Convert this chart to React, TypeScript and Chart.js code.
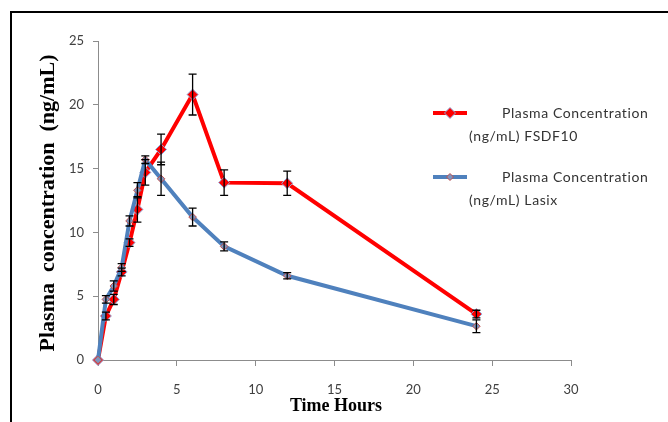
import React, { useEffect, useRef } from "react";
import { Chart, registerables } from "chart.js";

Chart.register(...registerables);

const times = [0, 0.5, 1, 1.5, 2, 2.5, 3, 4, 6, 8, 12, 24];
const fsdf10 = [0, 3.45, 4.75, 6.9, 9.2, 11.8, 14.7, 16.5, 20.8, 13.9, 13.85, 3.6];
const fsdf10Err = [0, 0.3, 0.4, 0.3, 0.3, 1.0, 1.0, 1.2, 1.6, 1.0, 0.95, 0.3];
const lasix = [0, 4.75, 5.8, 7.25, 10.9, 13.3, 15.7, 14.2, 11.2, 8.9, 6.6, 2.65];
const lasixErr = [0, 0.3, 0.4, 0.3, 0.4, 0.6, 0.3, 1.3, 0.7, 0.35, 0.25, 0.5];
const xTicks = [0, 5, 10, 15, 20, 25, 30];
const yTicks = [0, 5, 10, 15, 20, 25];

const seriesNames = ["Plasma Concentration (ng/mL) FSDF10", "Plasma Concentration (ng/mL) Lasix"];
const legendLines = [
  ["Plasma Concentration", "(ng/mL) FSDF10"],
  ["Plasma Concentration", "(ng/mL) Lasix"],
];
const xTitle = "Time Hours";
const yTitle = "Plasma  concentration  (ng/mL)";

const RED = "#FF0000";
const BLUE = "#4F81BD";

const errors = [fsdf10Err, lasixErr];

const errorBarPlugin = {
  id: "errorBars",
  afterDatasetsDraw(chart: any) {
    const ctx = chart.ctx;
    const xs = chart.scales.x;
    const ys = chart.scales.y;
    ctx.save();
    ctx.strokeStyle = "#000";
    ctx.lineWidth = 1.3;
    chart.data.datasets.forEach((ds: any, di: number) => {
      const err = errors[di];
      ds.data.forEach((p: any, i: number) => {
        const e = err[i];
        if (!e) return;
        const x = xs.getPixelForValue(p.x);
        const y1 = ys.getPixelForValue(p.y + e);
        const y2 = ys.getPixelForValue(p.y - e);
        ctx.beginPath();
        ctx.moveTo(x, y1);
        ctx.lineTo(x, y2);
        ctx.moveTo(x - 4, y1);
        ctx.lineTo(x + 4, y1);
        ctx.moveTo(x - 4, y2);
        ctx.lineTo(x + 4, y2);
        ctx.stroke();
      });
    });
    ctx.restore();
  },
};

function diamond(ctx: any, x: number, y: number, r: number, fill: string, stroke: string) {
  ctx.beginPath();
  ctx.moveTo(x, y - r);
  ctx.lineTo(x + r, y);
  ctx.lineTo(x, y + r);
  ctx.lineTo(x - r, y);
  ctx.closePath();
  ctx.fillStyle = fill;
  ctx.fill();
  ctx.strokeStyle = stroke;
  ctx.lineWidth = 1;
  ctx.stroke();
}

const decorPlugin = {
  id: "decor",
  afterDraw(chart: any) {
    const ctx = chart.ctx;
    ctx.save();
    // legend
    const items = [
      { y: 113, color: RED, mfill: RED, mstroke: "#8EA9DB", r: 5.5 },
      { y: 177, color: BLUE, mfill: "#7F94BE", mstroke: "#C0504D", r: 3.5 },
    ];
    items.forEach((it, i) => {
      ctx.strokeStyle = it.color;
      ctx.lineWidth = 4;
      ctx.beginPath();
      ctx.moveTo(433, it.y);
      ctx.lineTo(467, it.y);
      ctx.stroke();
      diamond(ctx, 450, it.y, it.r, it.mfill, it.mstroke);
      ctx.fillStyle = "#333";
      ctx.font = "14px Lato";
      try {
        ctx.letterSpacing = "0.6px";
      } catch (e) {}
      ctx.textBaseline = "middle";
      ctx.textAlign = "left";
      ctx.fillText(legendLines[i][0], 502, it.y);
      ctx.fillText(legendLines[i][1], 469, it.y + 23);
    });
    try {
      ctx.letterSpacing = "0px";
    } catch (e) {}
    // axis titles
    ctx.fillStyle = "#000";
    ctx.font = "bold 18px 'Liberation Serif'";
    ctx.textAlign = "center";
    ctx.textBaseline = "alphabetic";
    ctx.fillText(xTitle, 336, 411);
    ctx.translate(54, 203);
    ctx.rotate(-Math.PI / 2);
    ctx.font = "bold 22px 'Liberation Serif'";
    ctx.fillText(yTitle, 0, 0);
    ctx.restore();
  },
};

export default function App() {
  const ref = useRef<HTMLCanvasElement>(null);
  useEffect(() => {
    const canvas = ref.current!;
    const chart = new Chart(canvas, {
      type: "line",
      data: {
        datasets: [
          {
            label: seriesNames[0],
            data: times.map((t, i) => ({ x: t, y: fsdf10[i] })),
            borderColor: RED,
            backgroundColor: RED,
            borderWidth: 4,
            pointStyle: "rectRot",
            pointRadius: 5.5,
            pointBackgroundColor: RED,
            pointBorderColor: "#8EA9DB",
            pointBorderWidth: 1,
            tension: 0,
            clip: false,
            order: 1,
          },
          {
            label: seriesNames[1],
            data: times.map((t, i) => ({ x: t, y: lasix[i] })),
            borderColor: BLUE,
            backgroundColor: BLUE,
            borderWidth: 4,
            pointStyle: "rectRot",
            pointRadius: 3.8,
            pointBackgroundColor: "#7F94BE",
            pointBorderColor: "#C0504D",
            pointBorderWidth: 1,
            tension: 0,
            clip: false,
            order: 0,
          },
        ],
      },
      options: {
        animation: false,
        responsive: false,
        maintainAspectRatio: false,
        layout: { padding: { top: 41, right: 97, left: 0, bottom: 0 } },
        plugins: { legend: { display: false }, tooltip: { enabled: false } },
        scales: {
          x: {
            type: "linear",
            min: xTicks[0],
            max: xTicks[xTicks.length - 1],
            afterBuildTicks: (s: any) => {
              s.ticks = xTicks.map((v) => ({ value: v }));
            },
            afterFit: (s: any) => {
              s.height = 62;
            },
            ticks: { color: "#404040", font: { family: "Lato", size: 13 }, padding: 16, maxRotation: 0 },
            grid: { drawOnChartArea: false, tickLength: 6, color: "#8C8C8C" },
            border: { color: "#8C8C8C", width: 1 },
          },
          y: {
            type: "linear",
            min: yTicks[0],
            max: yTicks[yTicks.length - 1],
            afterBuildTicks: (s: any) => {
              s.ticks = yTicks.map((v) => ({ value: v }));
            },
            afterFit: (s: any) => {
              s.width = 98;
            },
            ticks: { color: "#404040", font: { family: "Lato", size: 13 }, padding: 9 },
            grid: { drawOnChartArea: false, tickLength: 5, color: "#8C8C8C" },
            border: { color: "#8C8C8C", width: 1 },
          },
        },
      },
      plugins: [errorBarPlugin, decorPlugin],
    });
    return () => chart.destroy();
  }, []);
  return (
    <div style={{ position: "absolute", left: 0, top: 0, width: 668, height: 422, background: "#fff", overflow: "hidden" }}>
      <canvas ref={ref} width={668} height={422} style={{ position: "absolute", left: 0, top: 0 }} />
      <div
        style={{
          position: "absolute",
          left: 10,
          top: 11,
          width: 700,
          height: 500,
          borderTop: "2px solid #000",
          borderLeft: "2px solid #000",
          pointerEvents: "none",
        }}
      />
    </div>
  );
}
